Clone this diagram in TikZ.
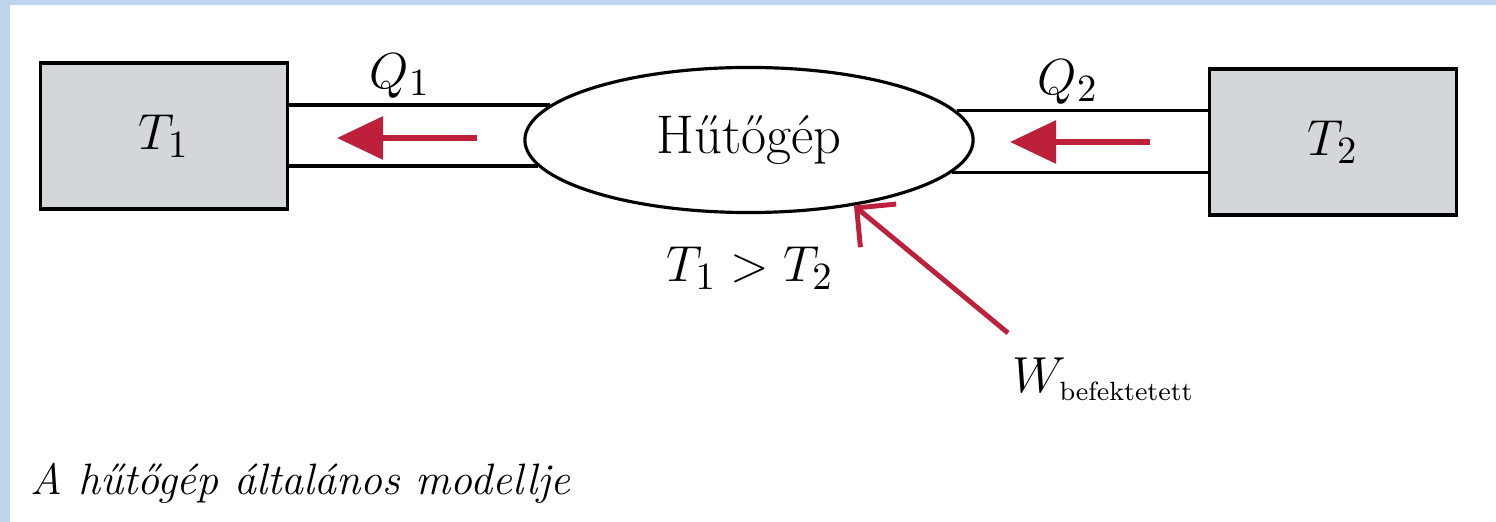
\documentclass[tikz,border=0pt]{standalone}
\usepackage{amsmath}
\usepackage{tikz}
\usetikzlibrary{arrows.meta,positioning,shapes.geometric}

\definecolor{heatred}{RGB}{188,32,58}
\definecolor{boxgray}{RGB}{212,215,217}
\definecolor{frameblue}{RGB}{189,214,238}

\begin{document}
\begin{tikzpicture}[
            x=0.01cm, y=-0.01cm,
            every node/.style={font=\fontsize{15}{18}\selectfont},
            reservoir/.style={draw, line width=0.9pt, fill=boxgray,
                minimum width=2.47cm, minimum height=1.46cm, inner sep=0pt},
            engine/.style={draw, ellipse, line width=0.9pt, fill=white,
                minimum width=4.48cm, minimum height=1.45cm, inner sep=0pt,
                font=\fontsize{15.5}{18}\selectfont},
            channel/.style={line width=0.9pt},
            heatflow/.style={heatred, line width=1.7pt,
                -{Triangle[length=0.46cm, width=0.42cm]}},
            workflow/.style={heatred, line width=1.4pt,
                -{Straight Barb[length=0.28cm, width=0.56cm]}}
        ]

        \useasboundingbox (0,0) rectangle (1496,522);
        \fill[white] (0,0) rectangle (1496,522);
        \fill[frameblue] (0,0) rectangle (10,522);
        \fill[frameblue] (0,0) rectangle (1496,5);

        %================================================
        % Reservoirs and the machine
        %================================================
        \node[reservoir] (T1) at (164,136) {$T_1$};
        \node[reservoir] (T2) at (1333,142) {$T_2$};
        \node[engine] (gep) at (749,140) {Hűtőgép};

        \draw[channel] (T1.east |- gep.170.6) -- (gep.170.6);
        \draw[channel] (T1.east |- gep.187.4) -- (gep.187.4);
        \draw[channel] (gep.8) -- (gep.8 -| T2.west);
        \draw[channel] (gep.351.6) -- (gep.351.6 -| T2.west);

        %================================================
        % Heat flows and work
        %================================================
        \coordinate (h1s) at (477,138);
        \coordinate (h1e) at (337,138);
        \coordinate (h2s) at (1150,142);
        \coordinate (h2e) at (1010,142);
        \coordinate (ws) at (1008,333);

        \draw[heatflow] (h1s) -- (h1e);
        \draw[heatflow] (h2s) -- (h2e);
        \draw[workflow] (ws) -- (gep.328.5);

        %================================================
        % Labels
        %================================================
        \node (Q1) at (400,76) {$Q_1$};
        \node (Q2) at (1068,82) {$Q_2$};
        \node (cond) at (750,268) {$T_1 > T_2$};
        \node[anchor=base west, inner sep=0pt] (W) at (1012,393)
            {$W_{\mbox{\fontsize{7.5}{9}\selectfont befektetett}}$};
        \node[anchor=base west, inner sep=0pt,
            font=\fontsize{12.5}{15}\selectfont\itshape] (caption) at (30,495)
            {A hűtőgép általános modellje};

        \end{tikzpicture}
\end{document}
